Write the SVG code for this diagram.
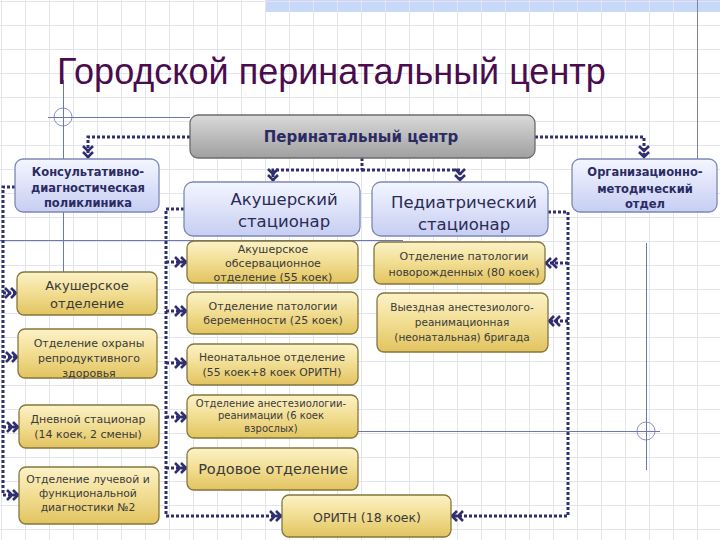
<svg xmlns="http://www.w3.org/2000/svg" width="720" height="540" viewBox="0 0 720 540">
<defs>
<pattern id="grid" patternUnits="userSpaceOnUse" x="1" y="1" width="24" height="24">
<path d="M0 0.5H24M0.5 0V24" fill="none" stroke="#e4e4ee" stroke-width="1"/>
</pattern>
<linearGradient id="gGold" x1="0" y1="0" x2="0" y2="1">
<stop offset="0" stop-color="#fcf2c6"/><stop offset="0.5" stop-color="#f1dd92"/><stop offset="1" stop-color="#e2c35f"/>
</linearGradient>
<linearGradient id="gBlue" x1="0" y1="0" x2="0" y2="1">
<stop offset="0" stop-color="#f4f6ff"/><stop offset="1" stop-color="#c6cef2"/>
</linearGradient>
<linearGradient id="gGray" x1="0" y1="0" x2="0" y2="1">
<stop offset="0" stop-color="#dadada"/><stop offset="0.5" stop-color="#bcbcbc"/><stop offset="1" stop-color="#a0a0a0"/>
</linearGradient>
<marker id="arr" markerUnits="userSpaceOnUse" markerWidth="16" markerHeight="14" viewBox="-14 -7 16 14" refX="0" refY="0" orient="auto" overflow="visible">
<path d="M-12,-5 L-7,0 L-12,5 M-6,-5 L-1,0 L-6,5" fill="none" stroke="#2e2e70" stroke-width="2.6"/>
</marker>
</defs>
<style>
.gold{fill:url(#gGold);stroke:#85763c;stroke-width:1.3}
.blue{fill:url(#gBlue);stroke:#7c88b6;stroke-width:1.3}
.gray{fill:url(#gGray);stroke:#6c6c6c;stroke-width:1.3}
.t{font-family:"DejaVu Sans",Verdana,sans-serif;fill:#3a3a3a;text-anchor:middle}
.tb{font-family:"DejaVu Sans",Verdana,sans-serif;font-weight:bold;fill:#2b2b63;text-anchor:middle}
.tm{font-family:"DejaVu Sans",Verdana,sans-serif;fill:#2b2b55;text-anchor:middle}
.con{fill:none;stroke:#2e2e70;stroke-width:3;stroke-dasharray:3 2}
.reg{fill:none;stroke:#6a78b0;stroke-width:1}
</style>
<rect width="720" height="540" fill="#ffffff"/>
<rect x="265" y="0" width="455" height="12" fill="#c8d8f8"/>
<rect width="720" height="540" fill="url(#grid)"/>
<line x1="697.5" y1="0" x2="697.5" y2="160" stroke="#7d8597" stroke-width="1"/>
<g id="registration">
<path class="reg" d="M48 117.5H190M63.5 80V272M0 240.5H403M646.5 243V470M355 431.5H660"/>
<circle class="reg" cx="63" cy="117" r="9" opacity="0.8"/>
<circle class="reg" cx="646" cy="431" r="9" opacity="0.8"/>
</g>
<text x="57" y="84" font-family="Liberation Sans, Arial, sans-serif" font-size="36" fill="#4a0c4e">Городской перинатальный центр</text>
<g id="connectors">
<path class="con" d="M190,137 H88 V158" marker-end="url(#arr)"/>
<path class="con" d="M535,137 H644 V158" marker-end="url(#arr)"/>
<path class="con" d="M362,158 V170 H273 V181" marker-end="url(#arr)"/>
<path class="con" d="M362,170 H460 V181" marker-end="url(#arr)"/>
<path class="con" d="M15,187 H3 V495 H19" marker-end="url(#arr)"/>
<path class="con" d="M3,293 H17" marker-end="url(#arr)"/>
<path class="con" d="M3,357 H18" marker-end="url(#arr)"/>
<path class="con" d="M3,427 H19" marker-end="url(#arr)"/>
<path class="con" d="M184,209 H166 V516 H282" marker-end="url(#arr)"/>
<path class="con" d="M166,262 H187" marker-end="url(#arr)"/>
<path class="con" d="M166,311 H187" marker-end="url(#arr)"/>
<path class="con" d="M166,363 H187" marker-end="url(#arr)"/>
<path class="con" d="M166,417 H187" marker-end="url(#arr)"/>
<path class="con" d="M166,468 H187" marker-end="url(#arr)"/>
<path class="con" d="M548,212 H568 V516 H451" marker-end="url(#arr)"/>
<path class="con" d="M568,263 H545" marker-end="url(#arr)"/>
<path class="con" d="M568,321 H548" marker-end="url(#arr)"/>
</g>
<g id="perinatal">
<rect class="gray" x="190" y="115" width="345" height="43" rx="8"/>
<text class="tb" x="361" y="142" font-size="15">Перинатальный центр</text>
</g>
<g id="kdp">
<rect class="blue" x="15" y="159" width="144" height="53" rx="8"/>
<text class="tb" x="88" y="176" font-size="11.5">Консультативно-</text>
<text class="tb" x="88" y="192" font-size="11.5">диагностическая</text>
<text class="tb" x="88" y="207" font-size="11.5">поликлиника</text>
</g>
<g id="omo">
<rect class="blue" x="572" y="159" width="145" height="53" rx="8"/>
<text class="tb" x="645" y="176" font-size="11.5">Организационно-</text>
<text class="tb" x="645" y="193" font-size="11.5">методический</text>
<text class="tb" x="645" y="208" font-size="11.5">отдел</text>
</g>
<g id="akush-stac">
<rect class="blue" x="184" y="182" width="176" height="54" rx="9"/>
<text class="tm" x="284" y="205" font-size="16.5">Акушерский</text>
<text class="tm" x="284" y="227" font-size="16.5">стационар</text>
</g>
<g id="ped-stac">
<rect class="blue" x="372" y="182" width="176" height="54" rx="9"/>
<text class="tm" x="464" y="208" font-size="16.5">Педиатрический</text>
<text class="tm" x="464" y="230" font-size="16.5">стационар</text>
</g>
<g id="akush-otd">
<rect class="gold" x="17" y="272" width="140" height="43" rx="7"/>
<text class="t" x="87" y="290" font-size="13">Акушерское</text>
<text class="t" x="87" y="308" font-size="13">отделение</text>
</g>
<g id="ohrany">
<rect class="gold" x="18" y="329" width="139" height="49" rx="7"/>
<text class="t" x="89" y="347" font-size="11">Отделение охраны</text>
<text class="t" x="89" y="362" font-size="11">репродуктивного</text>
<text class="t" x="89" y="377" font-size="11">здоровья</text>
</g>
<g id="dnevnoy">
<rect class="gold" x="19" y="405" width="140" height="43" rx="7"/>
<text class="t" x="88" y="423" font-size="11">Дневной стационар</text>
<text class="t" x="88" y="438" font-size="11">(14 коек, 2 смены)</text>
</g>
<g id="luchevoy">
<rect class="gold" x="19" y="467" width="140" height="57" rx="7"/>
<text class="t" x="88" y="483" font-size="10.8">Отделение лучевой и</text>
<text class="t" x="88" y="497" font-size="10.8">функциональной</text>
<text class="t" x="88" y="511" font-size="10.8">диагностики №2</text>
</g>
<g id="observ">
<rect class="gold" x="187" y="241" width="171" height="42" rx="7"/>
<text class="t" x="273" y="253" font-size="11">Акушерское</text>
<text class="t" x="273" y="267" font-size="11">обсервационное</text>
<text class="t" x="273" y="281" font-size="11">отделение (55 коек)</text>
</g>
<g id="pat-ber">
<rect class="gold" x="187" y="292" width="171" height="42" rx="7"/>
<text class="t" x="273" y="310" font-size="11">Отделение патологии</text>
<text class="t" x="273" y="324" font-size="11">беременности (25 коек)</text>
</g>
<g id="neonat">
<rect class="gold" x="187" y="344" width="171" height="41" rx="7"/>
<text class="t" x="272" y="361" font-size="10.8">Неонатальное отделение</text>
<text class="t" x="272" y="376" font-size="10.8">(55 коек+8 коек ОРИТН)</text>
</g>
<g id="anest">
<rect class="gold" x="187" y="395" width="171" height="43" rx="7"/>
<text class="t" x="271" y="407" font-size="10">Отделение анестезиологии-</text>
<text class="t" x="271" y="419" font-size="10">реанимации (6 коек</text>
<text class="t" x="271" y="432" font-size="10">взрослых)</text>
</g>
<g id="rodovoe">
<rect class="gold" x="187" y="448" width="171" height="42" rx="7"/>
<text class="t" x="273" y="474" font-size="14.5">Родовое отделение</text>
</g>
<g id="oritn">
<rect class="gold" x="282" y="495" width="169" height="42" rx="7"/>
<text class="t" x="367" y="522" font-size="12.5">ОРИТН (18 коек)</text>
</g>
<g id="pat-nov">
<rect class="gold" x="374" y="242" width="171" height="42" rx="7"/>
<text class="t" x="464" y="260" font-size="11">Отделение патологии</text>
<text class="t" x="464" y="276" font-size="11">новорожденных (80 коек)</text>
</g>
<g id="vyezd">
<rect class="gold" x="377" y="293" width="171" height="59" rx="7"/>
<text class="t" x="462" y="311" font-size="10.5">Выездная анестезиолого-</text>
<text class="t" x="462" y="326" font-size="10.5">реанимационная</text>
<text class="t" x="462" y="341" font-size="10.5">(неонатальная) бригада</text>
</g>
</svg>
